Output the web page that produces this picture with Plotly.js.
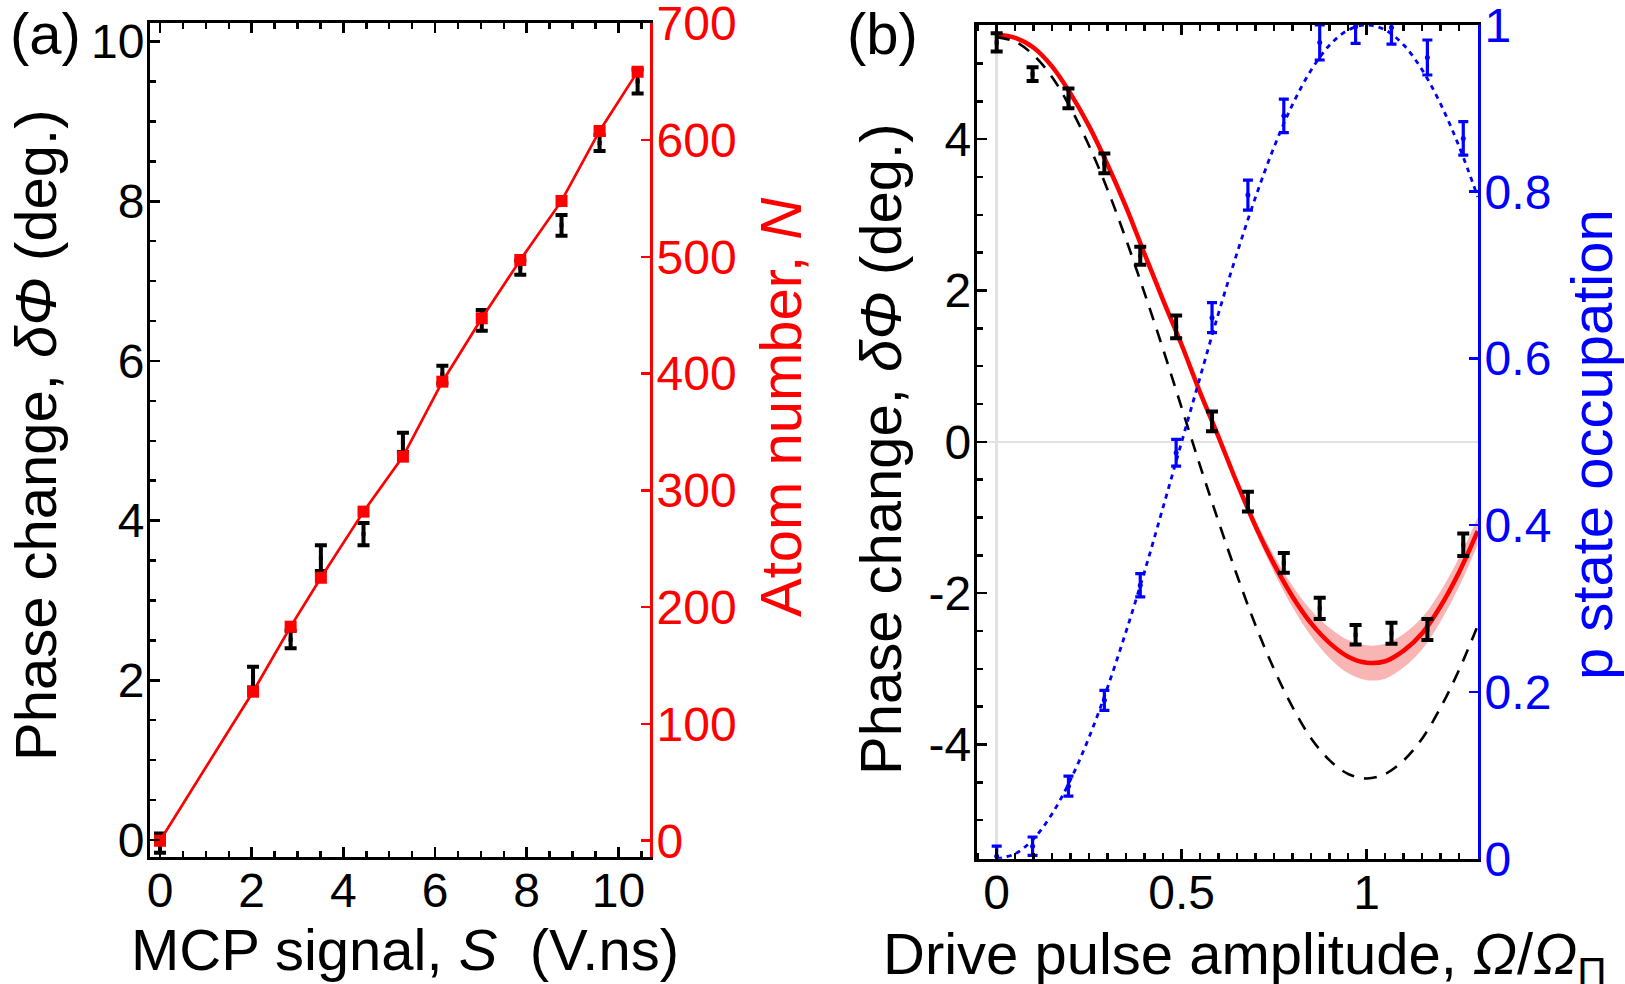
<!DOCTYPE html>
<html>
<head>
<meta charset="utf-8">
<script src="https://cdn.plot.ly/plotly-3.0.1.min.js"></script>
<style>
  html, body { margin: 0; padding: 0; background: #fff; }
  #chart { width: 1625px; height: 984px; }
</style>
</head>
<body>
<div id="chart"></div>
<script>
// ---------- Panel (a): phase change and atom number vs MCP signal ----------
const mcpSignal  = [0, 2.03, 2.85, 3.51, 4.44, 5.30, 6.16, 7.02, 7.86, 8.76, 9.59, 10.42];
const phaseA     = [-0.04, 2.04, 2.51, 3.53, 3.83, 4.98, 5.83, 6.51, 7.17, 7.70, 8.73, 9.50];
const phaseAErr  = [0.12, 0.13, 0.11, 0.16, 0.14, 0.12, 0.11, 0.13, 0.09, 0.13, 0.10, 0.15];
const atomNumber = [0, 127.6, 183.3, 225.2, 281.8, 328.9, 393.1, 447.4, 497.3, 547.9, 607.8, 658.6];

// ---------- Panel (b): phase change and p-state occupation vs drive amplitude ----------
const driveAmp   = [0, 0.097, 0.194, 0.291, 0.388, 0.485, 0.582, 0.679, 0.776, 0.873, 0.970, 1.067, 1.164, 1.261];
const phaseB     = [5.28, 4.86, 4.54, 3.68, 2.46, 1.52, 0.27, -0.79, -1.60, -2.20, -2.55, -2.53, -2.48, -1.36];
const phaseBErr  = [0.12, 0.09, 0.13, 0.13, 0.12, 0.15, 0.13, 0.13, 0.13, 0.14, 0.13, 0.14, 0.14, 0.15];
const pOcc       = [0.003, 0.015, 0.087, 0.190, 0.328, 0.487, 0.649, 0.796, 0.891, 0.979, 0.998, 0.997, 0.961, 0.864];
const pOccErr    = [0.012, 0.011, 0.012, 0.012, 0.014, 0.016, 0.018, 0.018, 0.020, 0.021, 0.020, 0.020, 0.021, 0.020];

// Model curves sampled along the drive amplitude
const curveAmp   = [0, 0.05, 0.1, 0.15, 0.2, 0.25, 0.3, 0.35, 0.4, 0.45, 0.5, 0.55, 0.6, 0.65,
                    0.7, 0.75, 0.8, 0.85, 0.9, 0.95, 1.0, 1.05, 1.1, 1.15, 1.2, 1.25, 1.3];
const fitPhase   = [5.38, 5.34, 5.21, 4.96, 4.60, 4.17, 3.66, 3.10, 2.48, 1.87, 1.28, 0.65, 0.06, -0.55,
                    -1.12, -1.62, -2.05, -2.40, -2.66, -2.84, -2.92, -2.90, -2.76, -2.53, -2.17, -1.72, -1.18];
const fitBand    = [0, 0.005, 0.01, 0.01, 0.01, 0.015, 0.02, 0.025, 0.03, 0.035, 0.04, 0.045, 0.05, 0.06,
                    0.08, 0.11, 0.14, 0.17, 0.20, 0.22, 0.23, 0.23, 0.22, 0.21, 0.20, 0.19, 0.18];
const simplePhase = [5.35, 5.29, 5.11, 4.82, 4.41, 3.91, 3.33, 2.67, 1.96, 1.22, 0.45, -0.32, -1.06, -1.77,
                    -2.43, -3.01, -3.51, -3.92, -4.21, -4.39, -4.45, -4.39, -4.21, -3.92, -3.51, -3.01, -2.43];
const pOccFit    = [0, 0.006, 0.024, 0.054, 0.095, 0.146, 0.206, 0.273, 0.345, 0.422, 0.500, 0.578, 0.655, 0.727,
                    0.794, 0.854, 0.905, 0.946, 0.976, 0.994, 1.0, 0.994, 0.976, 0.946, 0.905, 0.854, 0.794];

// Tick labels of the phase axis in panel (b), written with a plain hyphen
const phaseBTicks     = [-4, -2, 0, 2, 4];
const phaseBTickText  = ['-4', '-2', '0', '2', '4'];

// Axis titles and panel tags
const titleSignal   = 'MCP signal, <i>S</i>\u00a0 (V.ns)';
const titlePhase    = 'Phase change, <i>δΦ</i> (deg.)';
const titleAtoms    = 'Atom number, <i>N</i>';
const titleDrive    = 'Drive pulse amplitude, <i>Ω</i>/<i>Ω</i><sub>Π</sub>';
const titleOcc      = 'p state occupation';
const panelTags     = ['(a)', '(b)'];

const bandLow  = fitPhase.map((v, i) => v - fitBand[i]);
const bandHigh = fitPhase.map((v, i) => v + fitBand[i]);

const FONT = '"Liberation Sans", Arial, Helvetica, sans-serif';
const RED = '#ff0000', BLUE = '#0000ff';
const TICKSZ = 48, TITLESZ = 58;

const traces = [
  // (a) phase change, black error bars
  { x: mcpSignal, y: phaseA, xaxis: 'x', yaxis: 'y', mode: 'markers', type: 'scatter',
    marker: { size: 4, color: 'black', symbol: 'square' },
    error_y: { type: 'data', array: phaseAErr, visible: true, color: 'black', thickness: 4, width: 6 },
    showlegend: false },
  // (a) atom number, red squares joined by the linear calibration
  { x: mcpSignal, y: atomNumber, xaxis: 'x', yaxis: 'y2', mode: 'lines+markers', type: 'scatter',
    line: { color: RED, width: 2.7 },
    marker: { size: 12, color: RED, symbol: 'square' },
    showlegend: false },
  // (b) confidence band of the full model
  { x: curveAmp, y: bandLow, xaxis: 'x2', yaxis: 'y3', mode: 'lines', type: 'scatter',
    line: { width: 0, shape: 'spline', color: 'rgba(0,0,0,0)' }, showlegend: false, hoverinfo: 'skip' },
  { x: curveAmp, y: bandHigh, xaxis: 'x2', yaxis: 'y3', mode: 'lines', type: 'scatter',
    fill: 'tonexty', fillcolor: 'rgb(249,180,180)',
    line: { width: 0, shape: 'spline', color: 'rgba(0,0,0,0)' }, showlegend: false, hoverinfo: 'skip' },
  // (b) full model, red
  { x: curveAmp, y: fitPhase, xaxis: 'x2', yaxis: 'y3', mode: 'lines', type: 'scatter',
    line: { color: RED, width: 4.5, shape: 'spline' }, showlegend: false },
  // (b) simple model, black dashed
  { x: curveAmp, y: simplePhase, xaxis: 'x2', yaxis: 'y3', mode: 'lines', type: 'scatter',
    line: { color: 'black', width: 2.6, dash: '13px,10px', shape: 'spline' }, showlegend: false },
  // (b) measured phase change
  { x: driveAmp, y: phaseB, xaxis: 'x2', yaxis: 'y3', mode: 'markers', type: 'scatter',
    marker: { size: 4, color: 'black', symbol: 'square' },
    error_y: { type: 'data', array: phaseBErr, visible: true, color: 'black', thickness: 4, width: 6 },
    showlegend: false },
  // (b) p-state occupation model, blue dotted
  { x: curveAmp, y: pOccFit, xaxis: 'x2', yaxis: 'y4', mode: 'lines', type: 'scatter',
    line: { color: BLUE, width: 2.8, dash: '5px,5px', shape: 'spline' }, showlegend: false },
  // (b) measured p-state occupation
  { x: driveAmp, y: pOcc, xaxis: 'x2', yaxis: 'y4', mode: 'markers', type: 'scatter',
    marker: { size: 5, color: BLUE },
    error_y: { type: 'data', array: pOccErr, visible: true, color: BLUE, thickness: 3.2, width: 5 },
    showlegend: false }
];

function baseAxis(extra) {
  return Object.assign({
    showline: true, linewidth: 3, linecolor: 'black',
    ticks: 'inside', ticklen: 10, tickwidth: 2.5, tickcolor: 'black',
    showgrid: false, zeroline: false,
    tickfont: { family: FONT, size: TICKSZ, color: 'black' },
    ticklabeloverflow: 'allow',
    fixedrange: true
  }, extra);
}

const W = 1625, H = 984;
const px = v => v / W;          // horizontal pixel -> paper fraction
const py = v => 1 - v / H;      // vertical pixel (from top) -> paper fraction

function label(text, x, y, color, angle, size) {
  return { text: text, xref: 'paper', yref: 'paper', x: px(x), y: py(y),
    xanchor: 'center', yanchor: 'middle', showarrow: false, textangle: angle || 0,
    font: { family: FONT, size: size || TITLESZ, color: color || 'black' } };
}

const layout = {
  width: W, height: H,
  margin: { l: 0, r: 0, t: 0, b: 0, pad: 0 },
  paper_bgcolor: 'white', plot_bgcolor: 'white',
  font: { family: FONT, color: 'black' },
  showlegend: false,

  xaxis: baseAxis({
    domain: [px(150), px(650)], anchor: 'y',
    range: [-0.218, 10.69], tick0: 0, dtick: 2, mirror: 'ticks',
    minor: { dtick: 0.5, tick0: 0, ticks: 'inside', ticklen: 6, tickwidth: 2.5, tickcolor: 'black' },
    ticklabelstandoff: -10
  }),
  yaxis: baseAxis({
    domain: [py(856.7), py(23.3)], anchor: 'x',
    range: [-0.21, 10.23], tick0: 0, dtick: 2,
    minor: { dtick: 0.5, tick0: 0, ticks: 'inside', ticklen: 6, tickwidth: 2.5, tickcolor: 'black' },
    ticklabelstandoff: -7
  }),
  yaxis2: baseAxis({
    overlaying: 'y', side: 'right', anchor: 'x',
    range: [-13.7, 700], tick0: 0, dtick: 100,
    linecolor: RED, tickcolor: RED, ticklen: 9,
    tickfont: { family: FONT, size: TICKSZ, color: RED },
    ticklabelstandoff: -6
  }),

  xaxis2: baseAxis({
    domain: [px(976.7), px(1478)], anchor: 'y3',
    range: [-0.054, 1.3008], tick0: 0, dtick: 0.5, mirror: 'ticks',
    zeroline: true, zerolinecolor: 'rgb(226,226,226)', zerolinewidth: 2.5,
    minor: { dtick: 0.05, tick0: 0, ticks: 'inside', ticklen: 6, tickwidth: 2.5, tickcolor: 'black' },
    ticklabelstandoff: -10
  }),
  yaxis3: baseAxis({
    domain: [py(858.7), py(25)], anchor: 'x2',
    range: [-5.51, 5.51], tickmode: 'array', tickvals: phaseBTicks, ticktext: phaseBTickText,
    zeroline: true, zerolinecolor: 'rgb(226,226,226)', zerolinewidth: 2.5,
    minor: { tickmode: 'linear', dtick: 0.5, tick0: 0, ticks: 'inside', ticklen: 6, tickwidth: 2.5, tickcolor: 'black' },
    ticklabelstandoff: -7
  }),
  yaxis4: baseAxis({
    overlaying: 'y3', side: 'right', anchor: 'x2',
    range: [0, 1], tick0: 0, dtick: 0.2,
    linecolor: BLUE, tickcolor: BLUE, ticklen: 9,
    tickfont: { family: FONT, size: TICKSZ, color: BLUE },
    ticklabelstandoff: -6
  }),

  annotations: [
    // axis titles
    label(titleSignal, 405, 949),
    label(titlePhase, 35, 435, 'black', -90),
    label(titleAtoms, 781, 408, RED, -90),
    label(titleDrive, 1245, 958),
    label(titlePhase, 880, 449, 'black', -90),
    label(titleOcc, 1592, 445, BLUE, -90),
    // panel tags
    label(panelTags[0], 45, 33, 'black', 0, 58),
    label(panelTags[1], 882, 33, 'black', 0, 58)
  ]
};

Plotly.newPlot('chart', traces, layout, { staticPlot: true, displayModeBar: false });
</script>
</body>
</html>
